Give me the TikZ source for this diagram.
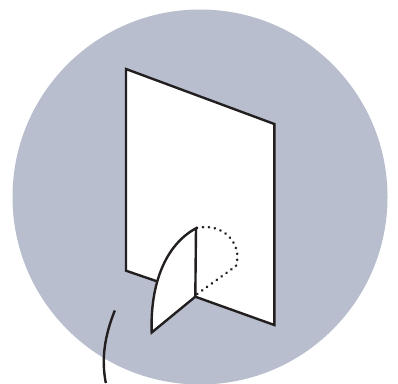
\documentclass[tikz,border=0pt]{standalone}
\definecolor{disc}{RGB}{184,190,205}
\definecolor{ink}{RGB}{35,31,32}
\begin{document}
\begin{tikzpicture}[x=1pt,y=-1pt,line join=miter,
  ln/.style={line width=2.4pt,draw=ink},
  dots/.style={line width=2.8pt,draw=ink,line cap=round,dash pattern=on 0.1pt off 5.9pt}]
\useasboundingbox (0,0) rectangle (398,383);
\fill[white] (0,0) rectangle (398,383);
\begin{scope}
\clip (0,0) rectangle (398,383);
\fill[disc] (200,197) circle (187.5);
\end{scope}
% sheet
\fill[white] (126,69) -- (274.3,124) -- (274.3,325) -- (195.3,296.7) -- (157,281) -- (126,270.7) -- cycle;
\draw[ln] (157,281.3) -- (126,270.7) -- (126,69) -- (274.3,124) -- (274.3,325) -- (195.3,296.7);
% leaf
\draw[ln,fill=white] (195.3,296.7) -- (151.7,332.5) .. controls (150,285) and (165,245) .. (196,228.3) -- cycle;
% dotted
\draw[dots] (197,228) .. controls (222,222) and (243,243) .. (236,266) -- (195.8,295);
% free curve
\draw[ln] (114.8,310.5) .. controls (105,335) and (101,358) .. (105.8,383);
\end{tikzpicture}
\end{document}
